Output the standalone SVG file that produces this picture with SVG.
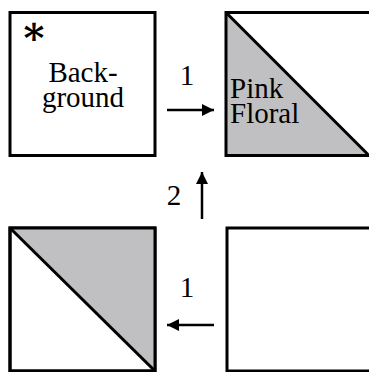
<svg xmlns="http://www.w3.org/2000/svg" width="369" height="372" viewBox="0 0 369 372">
<style>
.box{fill:#fff;stroke:#000;stroke-width:3}
.tri{fill:#c0c0c2;stroke:none}
.diag{stroke:#000;stroke-width:3;fill:none}
.lbl{font-family:'Liberation Serif','DejaVu Serif',serif;font-size:29px;fill:#000}
.conn{stroke:#000;stroke-width:2.5;fill:none}
</style>
<defs>
<marker id="ah" viewBox="0 0 10 10" refX="10" refY="5" markerWidth="17" markerHeight="12" markerUnits="userSpaceOnUse" orient="auto">
<path d="M0,0 L10,5 L0,10 Z" fill="#000"/>
</marker>
</defs>
<rect width="369" height="372" fill="#fff"/>
<g id="background">
<rect class="box" x="10" y="12.5" width="145" height="143"/>
<text x="34" y="52" font-family="'DejaVu Serif', serif" font-size="40" font-weight="bold" text-anchor="middle">*</text>
<text class="lbl" text-anchor="middle"><tspan x="83" y="82">Back-</tspan><tspan x="83" y="107">ground</tspan></text>
</g>
<g id="pink-floral">
<path class="tri" d="M226,12.5 L371,155.5 L226,155.5 Z"/>
<rect x="226" y="12.5" width="145" height="143" fill="none" stroke="#000" stroke-width="3"/>
<line class="diag" x1="226" y1="12.5" x2="369" y2="155.5"/>
<text class="lbl"><tspan x="230" y="98">Pink</tspan><tspan x="230" y="123">Floral</tspan></text>
</g>
<g id="half-square">
<rect class="box" x="10" y="228" width="145" height="143"/>
<path class="tri" d="M10,228 L155,228 L155,371 Z"/>
<rect x="10" y="228" width="145" height="143" fill="none" stroke="#000" stroke-width="3"/>
<line class="diag" x1="10" y1="228" x2="155" y2="371"/>
</g>
<g id="plain">
<rect class="box" x="227" y="228" width="145" height="143"/>
</g>
<g id="connectors">
<line class="conn" x1="167" y1="110" x2="214" y2="110" marker-end="url(#ah)"/>
<text class="lbl" x="187" y="85" text-anchor="middle">1</text>
<line class="conn" x1="202" y1="219" x2="202" y2="172" marker-end="url(#ah)"/>
<text class="lbl" x="174" y="205" text-anchor="middle">2</text>
<line class="conn" x1="214" y1="325" x2="167" y2="325" marker-end="url(#ah)"/>
<text class="lbl" x="187" y="297" text-anchor="middle">1</text>
</g>
</svg>
